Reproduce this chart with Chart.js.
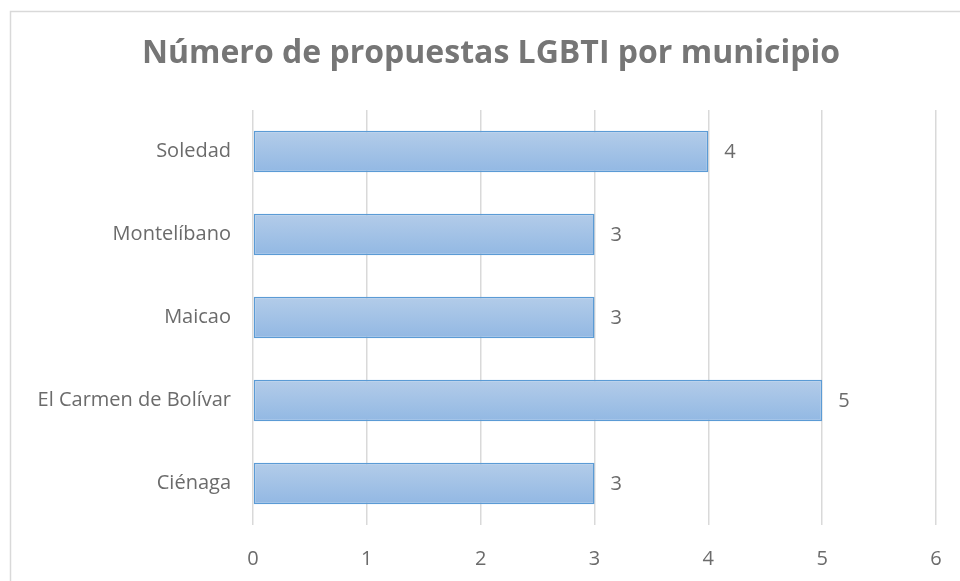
<!DOCTYPE html>
<html>
<head>
<meta charset="utf-8">
<script src="https://cdn.jsdelivr.net/npm/chart.js@4"></script>
<style>
  html, body { margin: 0; padding: 0; background: #fff; overflow: hidden; }
  #wrap { width: 960px; height: 581px; }
</style>
</head>
<body>
<div id="wrap"><canvas id="chart" width="960" height="581"></canvas></div>
<script>
// data
const chartTitle = "Número de propuestas LGBTI por municipio";
const municipios = ["Soledad", "Montelíbano", "Maicao", "El Carmen de Bolívar", "Ciénaga"];
const propuestas = [4, 3, 3, 5, 3];
const xTicks = [0, 1, 2, 3, 4, 5, 6];

const fontName = "'Open Sans', 'Liberation Sans', sans-serif";
const textGrey = "#6b6b6b";

// light grey frame like the excel chart area + the title
// (title drawn here so it can sit centred on the frame, not the canvas)
const framePlugin = {
  id: "frame",
  beforeDraw(chart) {
    const ctx = chart.ctx;
    ctx.save();
    ctx.strokeStyle = "#d9d9d9";
    ctx.lineWidth = 1.5;
    ctx.strokeRect(10.5, 11.5, 1200, 1200);
    ctx.fillStyle = "#767676";
    ctx.font = "bold 32px " + fontName;
    ctx.textAlign = "center";
    ctx.textBaseline = "middle";
    ctx.fillText(chartTitle, 491, 54);
    ctx.restore();
  }
};

// value labels at the end of each bar
const valueLabels = {
  id: "valueLabels",
  afterDatasetsDraw(chart) {
    const ctx = chart.ctx;
    const meta = chart.getDatasetMeta(0);
    ctx.save();
    ctx.fillStyle = textGrey;
    ctx.font = "20px " + fontName;
    ctx.textBaseline = "middle";
    ctx.textAlign = "left";
    meta.data.forEach((bar, i) => {
      ctx.fillText(String(propuestas[i]), bar.x + 16, bar.y + 1);
    });
    ctx.restore();
  }
};

function barGradient(context) {
  const chart = context.chart;
  const y = chart.scales.y;
  if (!y || context.dataIndex === undefined) return "#a3c2e7";
  const center = y.getPixelForValue(context.dataIndex);
  const half = (y.height / municipios.length) * 0.5 / 2;
  if (!Number.isFinite(center) || !Number.isFinite(half) || half <= 0) return "#a3c2e7";
  const g = chart.ctx.createLinearGradient(0, center - half, 0, center + half);
  g.addColorStop(0, "#b3cce9");
  g.addColorStop(1, "#92b8e3");
  return g;
}

const config = {
  type: "bar",
  data: {
    labels: municipios,
    datasets: [{
      data: propuestas,
      backgroundColor: barGradient,
      borderColor: "#5b9bd5",
      borderWidth: 1.5,
      borderSkipped: false,
      categoryPercentage: 0.5,
      barPercentage: 1.0
    }]
  },
  options: {
    indexAxis: "y",
    responsive: false,
    animation: false,
    layout: { padding: { left: 20, right: 24, top: 110, bottom: 0 } },
    plugins: {
      legend: { display: false },
      tooltip: { enabled: false },
      title: { display: false }
    },
    scales: {
      x: {
        min: 0,
        max: 6,
        afterBuildTicks(scale) {
          scale.ticks = xTicks.map(v => ({ value: v }));
        },
        afterFit(scale) {
          scale.height = 56;
          scale.paddingLeft = 0;
          scale.paddingRight = 0;
        },
        grid: { color: "#d9d9d9", lineWidth: 1.5, drawTicks: false },
        border: { display: false },
        ticks: {
          color: textGrey,
          font: { family: fontName, size: 20 },
          padding: 22
        }
      },
      y: {
        afterFit(scale) { scale.width = 233; },
        grid: { display: false },
        border: { display: false },
        ticks: {
          color: textGrey,
          font: { family: fontName, size: 20 },
          padding: 14
        }
      }
    }
  },
  plugins: [framePlugin, valueLabels]
};

const myChart = new Chart(document.getElementById("chart"), config);
</script>
</body>
</html>
